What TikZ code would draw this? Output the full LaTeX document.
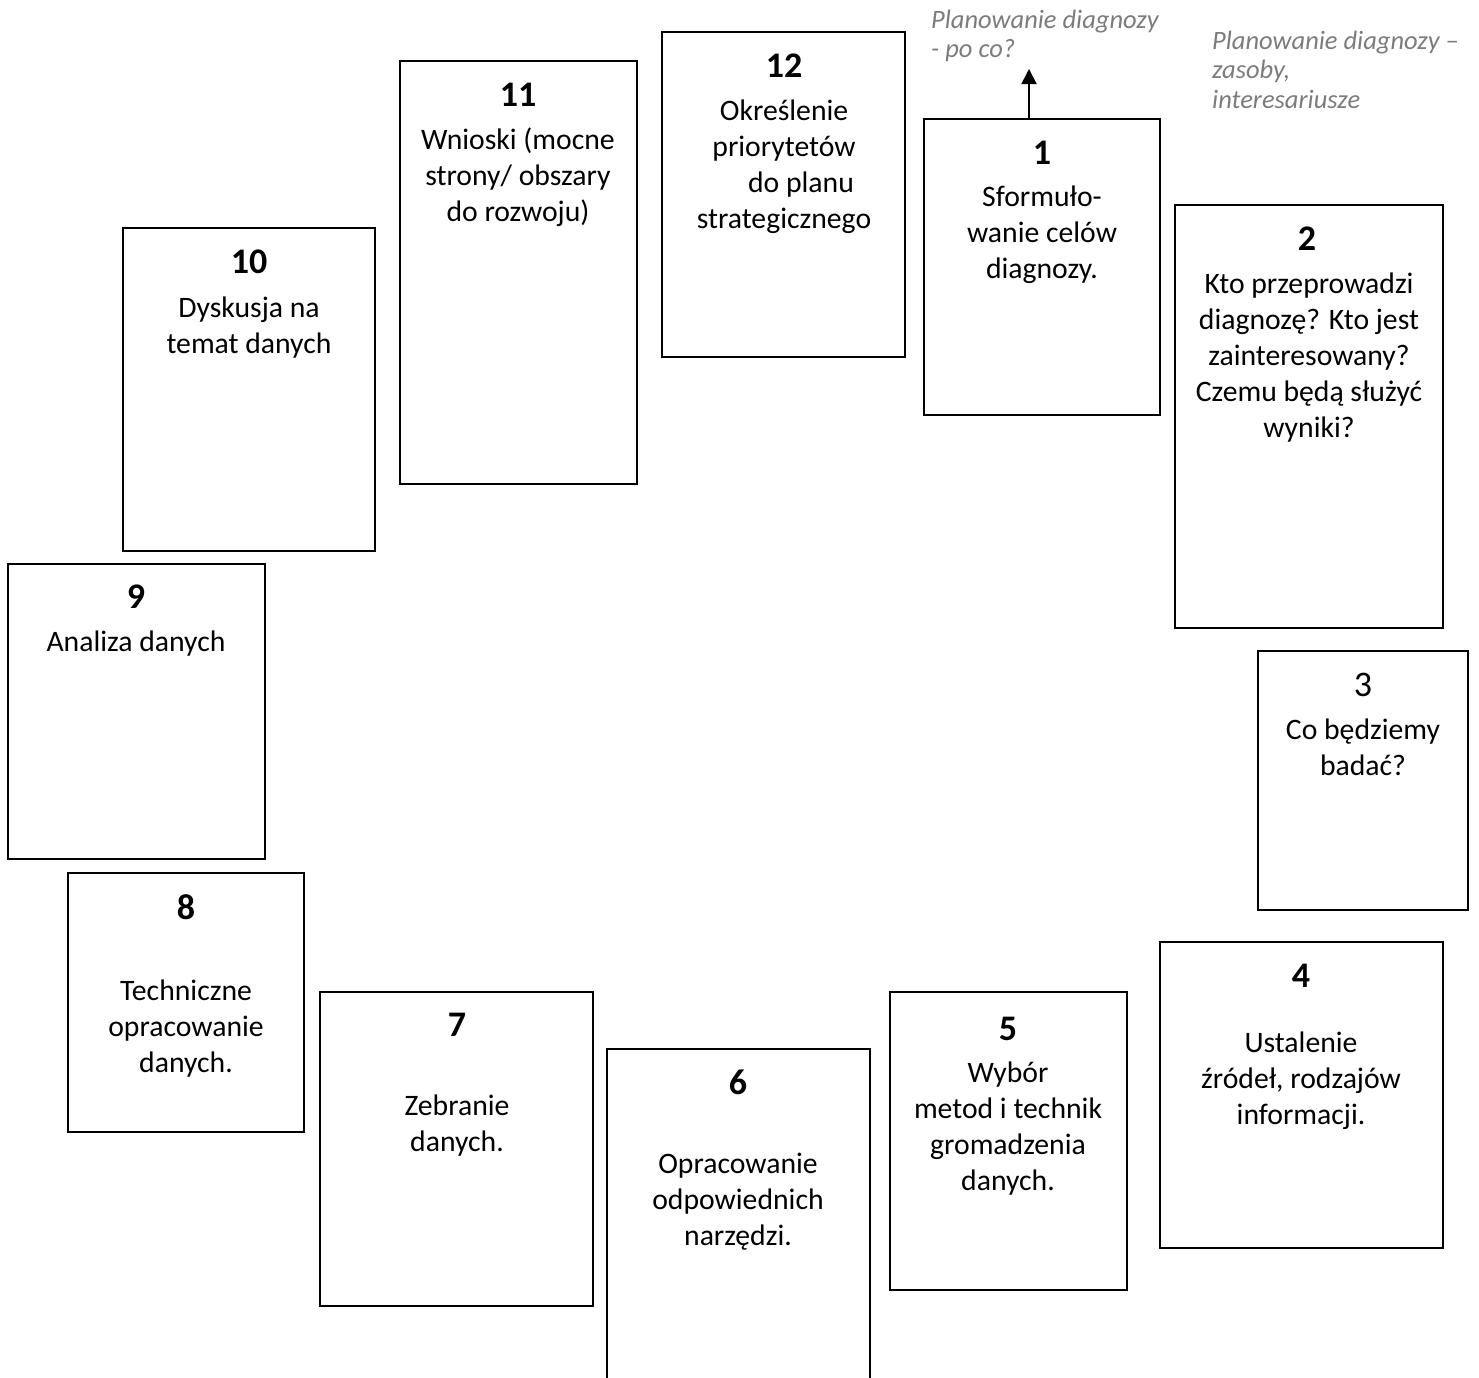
\documentclass[tikz,border=0pt]{standalone}
\usepackage{fontspec}
\setmainfont{Carlito}
\usetikzlibrary{arrows.meta}
\definecolor{notegray}{RGB}{124,124,124}
\newcommand{\bodyfont}{\fontsize{29.7}{36}\selectfont}
\newcommand{\numfont}{\fontsize{36}{36}\selectfont\bfseries}
\newcommand{\plainnumfont}{\fontsize{36}{36}\selectfont}
\newcommand{\notefont}{\fontsize{26.5}{29.5}\selectfont\itshape}
\newcommand{\bodytxt}[1]{\parbox[t]{300pt}{\centering #1}}
\newcommand{\notetxt}[1]{\parbox[t]{300pt}{\raggedright #1}}
\tikzset{
  cardbox/.style={draw, line width=1.8pt, anchor=north west, inner sep=0pt, outer sep=0pt},
  numtxt/.style={anchor=base, inner sep=0pt, font=\numfont},
  bodynode/.style={anchor=base, inner sep=0pt, font=\bodyfont},
  notenode/.style={anchor=base west, inner sep=0pt, font=\notefont, text=notegray},
}
\newcommand{\card}[5]{%
  \node[cardbox, minimum width={#4-#2}, minimum height={#5-#3}] (#1) at (#2,#3) {};}
\begin{document}
\begin{tikzpicture}[x=1pt,y=-1pt]
\useasboundingbox (0,0) rectangle (1479,1377);
\clip (0,0) rectangle (1479,1377);
% boxes
\card{b1}{924}{119}{1160}{415}
\card{b2}{1175}{205}{1443}{628}
\card{b3}{1258}{651}{1468}{910}
\card{b4}{1160}{942}{1443}{1248}
\card{b5}{890}{992}{1127}{1290}
\card{b6}{607}{1049}{870}{1420}
\card{b7}{320}{992}{593}{1306}
\card{b8}{68}{873}{304}{1132}
\card{b9}{8}{564}{265}{859}
\card{b10}{123}{228}{375}{551}
\card{b11}{400}{61}{637}{484}
\card{b12}{662}{32}{905}{357}
% numbers
\node[numtxt] (n1) at (1042,164) {1};
\node[numtxt] (n2) at (1307,250) {2};
\node[numtxt, font=\plainnumfont] (n3) at (1363,696) {3};
\node[numtxt] (n4) at (1301,987) {4};
\node[numtxt] (n5) at (1008,1040) {5};
\node[numtxt] (n6) at (738,1094) {6};
\node[numtxt] (n7) at (457,1036) {7};
\node[numtxt] (n8) at (186,919) {8};
\node[numtxt] (n9) at (136,608) {9};
\node[numtxt] (n10) at (249,273) {10};
\node[numtxt] (n11) at (518,106) {11};
\node[numtxt] (n12) at (784,77) {12};
% body texts
\node[bodynode] (t1) at (1042,206) {\bodytxt{Sformuło-\\wanie celów\\diagnozy.}};
\node[bodynode] (t2) at (1309,293) {\bodytxt{Kto przeprowadzi\\diagnozę? Kto jest\\zainteresowany?\\Czemu będą służyć\\wyniki?}};
\node[bodynode] (t3) at (1363,739) {\bodytxt{Co będziemy\\badać?}};
\node[bodynode] (t4) at (1301,1052) {\bodytxt{Ustalenie\\źródeł, rodzajów\\informacji.}};
\node[bodynode] (t5) at (1008,1082) {\bodytxt{Wybór\\metod i technik\\gromadzenia\\danych.}};
\node[bodynode] (t6) at (738,1173) {\bodytxt{Opracowanie\\odpowiednich\\narzędzi.}};
\node[bodynode] (t7) at (457,1115) {\bodytxt{Zebranie\\danych.}};
\node[bodynode] (t8) at (186,1000) {\bodytxt{Techniczne\\opracowanie\\danych.}};
\node[bodynode] (t9) at (136,651) {\bodytxt{Analiza danych}};
\node[bodynode] (t10) at (249,317) {\bodytxt{Dyskusja na\\temat danych}};
\node[bodynode] (t11) at (518,149) {\bodytxt{Wnioski (mocne\\strony/ obszary\\do rozwoju)}};
\node[bodynode] (t12) at (784,120) {\bodytxt{Określenie\\priorytetów\\\hspace*{34pt}do planu\\strategicznego}};
% notes
\node[notenode] (p1) at (931,28) {\notetxt{Planowanie diagnozy\\- po co?}};
\node[notenode] (p2) at (1212,49) {\notetxt{Planowanie diagnozy –\\zasoby,\\interesariusze}};
% arrow
\coordinate (atip) at (1029,69);
\draw[line width=1.8pt, -{Triangle[width=15pt,length=15pt]}] (b1.north -| atip) -- (atip);
\end{tikzpicture}
\end{document}
